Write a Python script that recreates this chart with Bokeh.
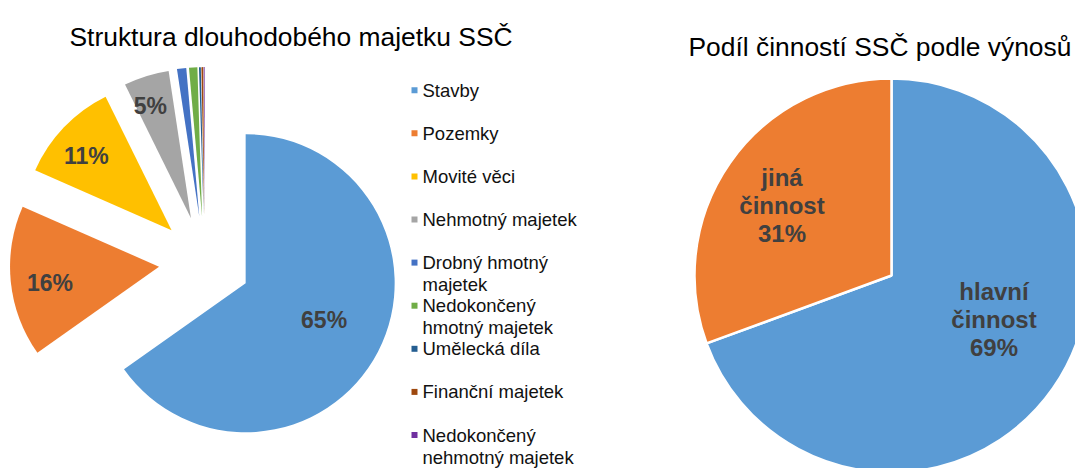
from math import radians, cos, sin
from bokeh.plotting import figure
from bokeh.models import Range1d, ColumnDataSource
from bokeh.core.properties import value
from bokeh.embed import file_html
from bokeh.resources import INLINE

# ---------------- data ----------------
categories = ["Stavby", "Pozemky", "Movité věci", "Nehmotný majetek",
              "Drobný hmotný majetek", "Nedokončený hmotný majetek",
              "Umělecká díla", "Finanční majetek", "Nedokončený nehmotný majetek"]
values = [65.2, 16.4, 11.1, 4.9, 1.0, 0.9, 0.2, 0.2, 0.1]
legend_lines = [["Stavby"], ["Pozemky"], ["Movité věci"], ["Nehmotný majetek"],
                ["Drobný hmotný", "majetek"], ["Nedokončený", "hmotný majetek"],
                ["Umělecká díla"], ["Finanční majetek"], ["Nedokončený", "nehmotný majetek"]]

activities = ["hlavní činnost", "jiná činnost"]
activity_values = [69.4, 30.6]
activity_lines = [["hlavní", "činnost"], ["jiná", "činnost"]]

title_left = "Struktura dlouhodobého majetku SSČ"
title_right = "Podíl činností SSČ podle výnosů"

# ---------------- styles ----------------
colors = ["#5B9BD5", "#ED7D31", "#FFC000", "#A5A5A5", "#4472C4",
          "#70AD47", "#255E91", "#9E480E", "#7030A0"]
activity_colors = ["#5B9BD5", "#ED7D31"]
FONT = value("Liberation Sans")
LABEL_COLOR = "#404040"

W, H = 1075, 468
p = figure(width=W, height=H, output_backend="svg", toolbar_location=None,
           x_range=Range1d(0, W), y_range=Range1d(0, H), min_border=0)
p.axis.visible = False
p.grid.visible = False
p.outline_line_color = None
p.background_fill_color = "white"
p.border_fill_color = "white"

# ---------------- left exploded pie ----------------
cx, cy, r, d = 204.3, 206.4, 149, 46
total = sum(values)
xs, ys, st, en = [], [], [], []
bis_list = []
a0 = 90.0
for v in values:
    a1 = a0 - 360.0 * v / total
    b = (a0 + a1) / 2
    bis_list.append(b)
    xs.append(cx + d * cos(radians(b)))
    ys.append(cy + d * sin(radians(b)))
    st.append(radians(a1))
    en.append(radians(a0))
    a0 = a1
src = ColumnDataSource(dict(x=xs, y=ys, start=st, end=en, color=colors))
p.wedge(x="x", y="y", radius=r, start_angle="start", end_angle="end",
        fill_color="color", line_color=None, source=src)

label_frac = [0.58, 0.74, 0.76, 0.80]
lx, ly, lt = [], [], []
for i, v in enumerate(values):
    if v / total * 100 >= 2:
        b = radians(bis_list[i] + 2.5)
        lx.append(xs[i] + label_frac[i] * r * cos(b))
        ly.append(ys[i] + label_frac[i] * r * sin(b))
        lt.append("%d%%" % round(v / total * 100))
p.text(x=lx, y=ly, text=lt, text_font=FONT, text_font_style="bold",
       text_font_size="23px", text_color=LABEL_COLOR, text_align="center",
       text_baseline="middle")

# ---------------- legend ----------------
leg_x, leg_y0, leg_step, line_h = 414, 378.3, 43.1, 22
mx, my, mc, tx, ty, tt = [], [], [], [], [], []
for i, lines in enumerate(legend_lines):
    y0 = leg_y0 - i * leg_step
    mx.append(leg_x)
    my.append(y0)
    mc.append(colors[i])
    for j, line in enumerate(lines):
        tx.append(leg_x + 8)
        ty.append(y0 - j * line_h)
        tt.append(line)
p.rect(x=mx, y=my, width=6, height=6, fill_color=mc, line_color=None)
p.text(x=tx, y=ty, text=tt, text_font=FONT, text_font_size="18.5px",
       text_color="#111111", text_align="left", text_baseline="middle")

# ---------------- right pie ----------------
rcx, rcy, rr = 891, 193, 197
rtotal = sum(activity_values)
rs, re, rb = [], [], []
a0 = 90.0
for v in activity_values:
    a1 = a0 - 360.0 * v / rtotal
    rs.append(radians(a1))
    re.append(radians(a0))
    rb.append((a0 + a1) / 2)
    a0 = a1
rsrc = ColumnDataSource(dict(start=rs, end=re, color=activity_colors))
p.wedge(x=rcx, y=rcy, radius=rr, start_angle="start", end_angle="end",
        fill_color="color", line_color="white", line_width=2.5, source=rsrc)

r_adj = [11.5, 2.3]
r_frac = [0.567, 0.66]
rtx, rty, rtt = [], [], []
for i, v in enumerate(activity_values):
    b = radians(rb[i] + r_adj[i])
    bx = rcx + r_frac[i] * rr * cos(b)
    by = rcy + r_frac[i] * rr * sin(b)
    lines = activity_lines[i] + ["%d%%" % round(v / rtotal * 100)]
    for j, line in enumerate(lines):
        rtx.append(bx)
        rty.append(by + (1 - j) * 28)
        rtt.append(line)
p.text(x=rtx, y=rty, text=rtt, text_font=FONT, text_font_style="bold",
       text_font_size="24px", text_color=LABEL_COLOR, text_align="center",
       text_baseline="middle")

# ---------------- titles ----------------
p.text(x=[69], y=[432], text=[title_left], text_font=FONT, text_font_size="26.4px",
       text_color="#000000", text_align="left", text_baseline="alphabetic")
p.text(x=[688], y=[421.3], text=[title_right], text_font=FONT, text_font_size="26.4px",
       text_color="#000000", text_align="left", text_baseline="alphabetic")

open("out.html", "w").write(file_html(p, INLINE))
